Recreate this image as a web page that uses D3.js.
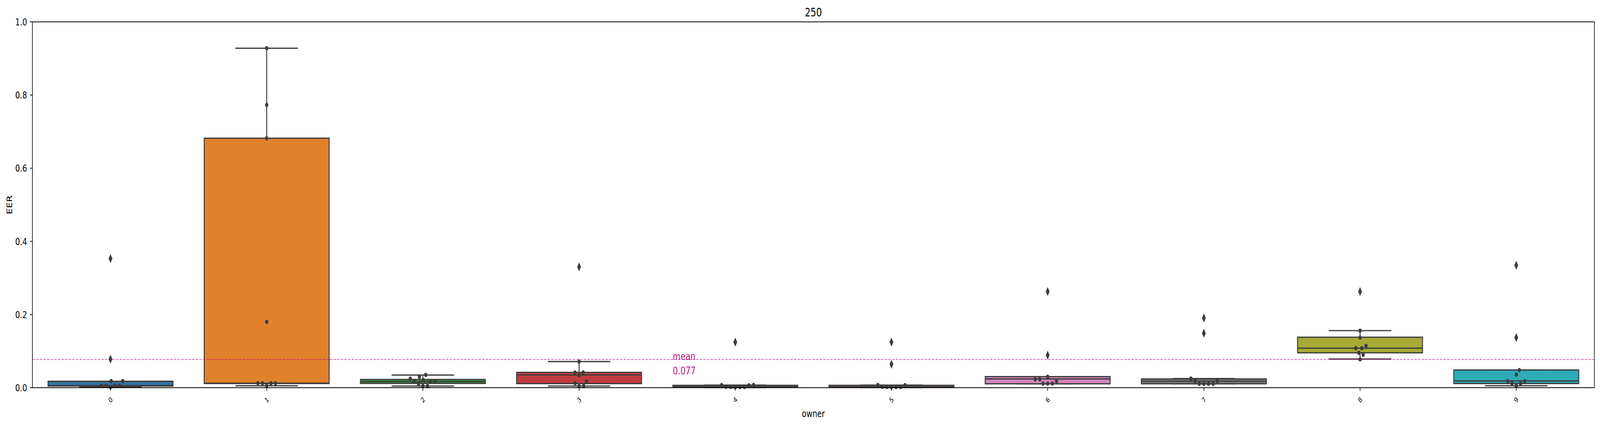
<!DOCTYPE html>
<html><head><meta charset="utf-8">
<script src="https://cdn.jsdelivr.net/npm/d3@7"></script>
<style>html,body{margin:0;padding:0;background:#fff;overflow:hidden;width:100%;height:100%;} svg{display:block;width:100vw;height:100vh;font-family:"DejaVu Sans",sans-serif;}</style>
</head><body><svg id="chart" viewBox="0 0 5382 1090" preserveAspectRatio="none"></svg>
<script>
// ---- data ----
const categories = ["0","1","2","3","4","5","6","7","8","9"];
const q1s         = [0.0045, 0.0115, 0.0117, 0.0112, 0.0010, 0.0010, 0.0107, 0.0107, 0.0954, 0.0114];
const medians     = [0.0059, 0.0123, 0.0167, 0.0347, 0.0028, 0.0020, 0.0239, 0.0178, 0.1080, 0.0185];
const q3s         = [0.0175, 0.6820, 0.0225, 0.0418, 0.0065, 0.0065, 0.0303, 0.0239, 0.1380, 0.0484];
const whiskerLow  = [0.0016, 0.0052, 0.0045, 0.0045, 0.0005, 0.0005, 0.0107, 0.0107, 0.0783, 0.0053];
const whiskerHigh = [0.0175, 0.9280, 0.0345, 0.0714, 0.0070, 0.0070, 0.0303, 0.0250, 0.1560, 0.0484];
const outliers = [
  [0.078, 0.353], [], [], [0.330], [0.1246],
  [0.064, 0.1246], [0.089, 0.2627], [0.1488, 0.1905], [0.2627], [0.137, 0.3346]
];
const points = [
  [0.0016, 0.0059, 0.0059, 0.0059, 0.0059, 0.018, 0.018],
  [0.0059, 0.0123, 0.0123, 0.0123, 0.0123, 0.180, 0.682, 0.773, 0.928],
  [0.0045, 0.0045, 0.011, 0.0176, 0.0176, 0.0176, 0.021, 0.0247, 0.030, 0.035],
  [0.0045, 0.0045, 0.0123, 0.0176, 0.0344, 0.0415, 0.0415, 0.0714],
  [0.0015, 0.002, 0.002, 0.002, 0.0025, 0.0065, 0.007, 0.0075],
  [0.0015, 0.002, 0.002, 0.002, 0.0025, 0.007, 0.0075],
  [0.0114, 0.0114, 0.0114, 0.0178, 0.023, 0.023, 0.030],
  [0.0107, 0.0107, 0.0107, 0.0107, 0.0178, 0.0178, 0.025],
  [0.0773, 0.0897, 0.0954, 0.108, 0.108, 0.1146, 0.137, 0.156],
  [0.0053, 0.0114, 0.0114, 0.0178, 0.0178, 0.0356, 0.048]
];
const meanValue = 0.077;
const meanLabel = ["mean", "0.077"];
const yTicks = [0.0, 0.2, 0.4, 0.6, 0.8, 1.0];
const palette = ["#3274a1","#e1812c","#3a923a","#c03d3e","#9372b2","#845b53","#d684bd","#7f7f7f","#a9aa35","#2eabb8"];
const titleText = "250", xLabel = "owner", yLabel = "EER";

// ---- layout ----
const L = 109, R = 5363, T = 56, B = 992;
const gray = "#3d3d3d";
const svg = d3.select("#chart");
const x = d3.scaleBand().domain(categories).range([L, R]).padding(0);
const bw = x.bandwidth();
const y = d3.scaleLinear().domain([0, 1]).range([B, T]);
const cx = c => x(c) + bw / 2;

svg.append("rect").attr("width", 5382).attr("height", 1090).attr("fill", "#fff");
const g = svg.append("g");

// boxes
categories.forEach((c, i) => {
  const xc = cx(c), half = bw * 0.4, capHalf = bw * 0.2;
  const grp = g.append("g");
  grp.append("line").attr("x1", xc).attr("x2", xc).attr("y1", y(q3s[i])).attr("y2", y(whiskerHigh[i]))
    .attr("stroke", gray).attr("stroke-width", 3.2);
  grp.append("line").attr("x1", xc).attr("x2", xc).attr("y1", y(q1s[i])).attr("y2", y(whiskerLow[i]))
    .attr("stroke", gray).attr("stroke-width", 3.2);
  [whiskerHigh[i], whiskerLow[i]].forEach(v => {
    grp.append("line").attr("x1", xc - capHalf).attr("x2", xc + capHalf).attr("y1", y(v)).attr("y2", y(v))
      .attr("stroke", gray).attr("stroke-width", 3.2);
  });
  grp.append("rect").attr("x", xc - half).attr("width", 2 * half)
    .attr("y", y(q3s[i])).attr("height", Math.max(0.01, y(q1s[i]) - y(q3s[i])))
    .attr("fill", palette[i]).attr("stroke", gray).attr("stroke-width", 3.2);
  grp.append("line").attr("x1", xc - half).attr("x2", xc + half).attr("y1", y(medians[i])).attr("y2", y(medians[i]))
    .attr("stroke", gray).attr("stroke-width", 3.2);
});

// mean line
g.append("line").attr("x1", L).attr("x2", R).attr("y1", y(meanValue)).attr("y2", y(meanValue))
  .attr("stroke", "#c71585").attr("stroke-opacity", 0.6).attr("stroke-width", 2.3)
  .attr("stroke-dasharray", "8.5,3.7");

// mean text (at category position 3.6)
const xCat = d3.scaleLinear().domain([-0.5, categories.length - 0.5]).range([L, R]);
const mt = g.append("text").attr("x", xCat(3.6)).attr("y", y(meanValue) + 1.5)
  .attr("fill", "#c71585").attr("font-size", 27);
meanLabel.forEach((s, k) => mt.append("tspan").attr("x", xCat(3.6)).attr("dy", k === 0 ? 0 : 36.5).text(s));

// outliers (thin diamonds)
categories.forEach((c, i) => {
  outliers[i].forEach(v => {
    const xc = cx(c), yc = y(v);
    g.append("path").attr("d", `M${xc},${yc - 11.5}L${xc + 6.5},${yc}L${xc},${yc + 11.5}L${xc - 6.5},${yc}Z`)
      .attr("fill", gray);
  });
});

// swarm points
function swarm(vals) {
  const d = 15.5;
  const pts = vals.map(v => ({ v, py: y(v) })).sort((a, b) => b.py - a.py);
  const placed = [];
  pts.forEach(p => {
    const nb = placed.filter(q => Math.abs(q.py - p.py) < d);
    const cands = [0];
    nb.forEach(q => {
      const dx = Math.sqrt(d * d - (q.py - p.py) ** 2);
      cands.push(q.dx + dx, q.dx - dx);
    });
    cands.sort((a, b) => Math.abs(a) - Math.abs(b));
    for (const c of cands) {
      if (nb.every(q => Math.hypot(q.dx - c, q.py - p.py) >= d - 1e-6)) { p.dx = c; break; }
    }
    if (p.dx === undefined) p.dx = 0;
    placed.push(p);
  });
  return placed;
}
categories.forEach((c, i) => {
  swarm(points[i]).forEach(p => {
    g.append("circle").attr("cx", cx(c) + p.dx).attr("cy", p.py).attr("r", 5.6).attr("fill", gray);
  });
});

// axes frame
svg.append("rect").attr("x", L).attr("y", T).attr("width", R - L).attr("height", B - T)
  .attr("fill", "none").attr("stroke", "#000").attr("stroke-width", 2);

// y ticks
yTicks.forEach(t => {
  svg.append("line").attr("x1", L - 8).attr("x2", L).attr("y1", y(t)).attr("y2", y(t)).attr("stroke", "#000").attr("stroke-width", 2);
  svg.append("text").attr("x", L - 18).attr("y", y(t) + 9).attr("text-anchor", "end").attr("font-size", 25).text(t.toFixed(1));
});
// x ticks
categories.forEach(c => {
  svg.append("line").attr("x1", cx(c)).attr("x2", cx(c)).attr("y1", B).attr("y2", B + 8).attr("stroke", "#000").attr("stroke-width", 2);
  svg.append("text").attr("transform", `translate(${cx(c)},${B + 31}) rotate(-45)`)
    .attr("text-anchor", "middle").attr("dy", "0.36em").attr("font-size", 18).text(c);
});

// labels
svg.append("text").attr("x", (L + R) / 2).attr("y", 42).attr("text-anchor", "middle").attr("font-size", 30).text(titleText);
svg.append("text").attr("x", (L + R) / 2).attr("y", 1067).attr("text-anchor", "middle").attr("font-size", 25).text(xLabel);
svg.append("text").attr("transform", `translate(41,${(T + B) / 2}) rotate(-90)`).attr("text-anchor", "middle").attr("font-size", 25).text(yLabel);
</script></body></html>
